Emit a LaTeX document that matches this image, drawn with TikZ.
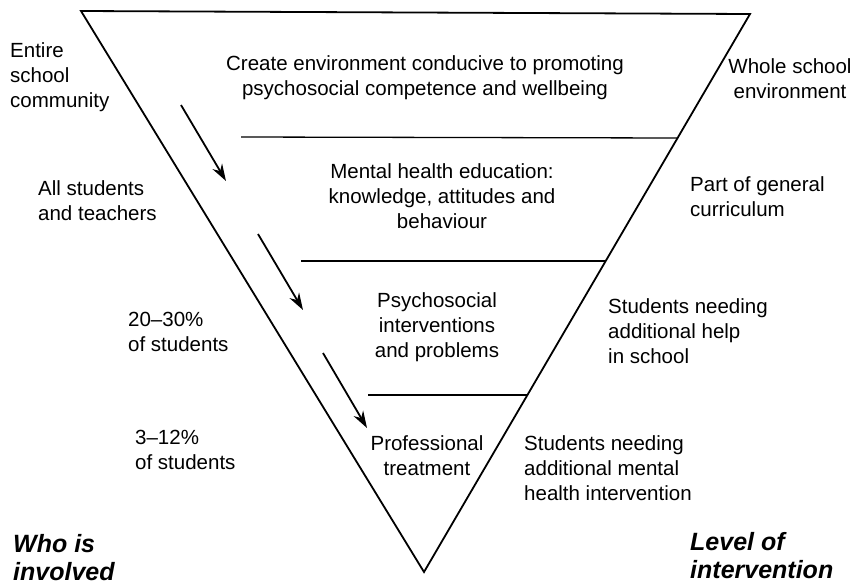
\documentclass[tikz,border=0pt]{standalone}
\usepackage{fontspec}
\setmainfont{Liberation Sans}
\usetikzlibrary{arrows.meta}

\begin{document}
\begin{tikzpicture}[x=1pt,y=-1pt,
  txt/.style={inner sep=0pt, font=\fontsize{20.5}{25}\selectfont},
  heading/.style={inner sep=0pt, align=left, anchor=north west, font=\fontsize{25}{28}\selectfont\bfseries\itshape},
  divider/.style={line width=1.3pt},
  flow/.style={line width=1.8pt,->,>={Stealth[length=17pt,width=11pt]}}]
\useasboundingbox (0,0) rectangle (854,584);

% Triangle
\coordinate (tl) at (81,11);
\coordinate (tr) at (750,14);
\coordinate (apex) at (424,572);
\draw[line width=1.8pt] (tl) -- (tr) -- (apex) -- cycle;

% Dividers between levels
\coordinate (d1a) at (241,137); \coordinate (d1b) at (678,138);
\coordinate (d2a) at (301,261); \coordinate (d2b) at (606,261);
\coordinate (d3a) at (368,395); \coordinate (d3b) at (527,395);
\draw[divider] (d1a) -- (d1b);
\draw[divider] (d2a) -- (d2b);
\draw[divider] (d3a) -- (d3b);

% Arrows down the levels
\coordinate (a1s) at (181,105); \coordinate (a1e) at (226,181);
\coordinate (a2s) at (258,234); \coordinate (a2e) at (303,310);
\coordinate (a3s) at (323,353); \coordinate (a3e) at (367,428);
\draw[flow] (a1s) -- (a1e);
\draw[flow] (a2s) -- (a2e);
\draw[flow] (a3s) -- (a3e);

% Levels inside the triangle
\node[txt, align=center, anchor=north] (create) at (425,55) {Create environment conducive to promoting\\psychosocial competence and wellbeing};
\node[txt, align=center, anchor=north] (education) at (442,163) {Mental health education:\\knowledge, attitudes and\\behaviour};
\node[txt, align=center, anchor=north] (psychosocial) at (437,292) {Psychosocial\\interventions\\and problems};
\node[txt, align=center, anchor=north] (treatment) at (427,435) {Professional\\treatment};

% Who is involved (left)
\node[txt, align=left, anchor=north west] (community) at (10,42) {Entire\\school\\community};
\node[txt, align=left, anchor=north west] (students) at (38,180) {All students\\and teachers};
\node[txt, align=left, anchor=north west] (twenty) at (128,312) {20–30\%\\of students};
\node[txt, align=left, anchor=north west] (three) at (135,430) {3–12\%\\of students};

% Level of intervention (right)
\node[txt, align=center, anchor=north] (whole) at (790,58) {Whole school\\environment};
\node[txt, align=left, anchor=north west] (curriculum) at (690,176) {Part of general\\curriculum};
\node[txt, align=left, anchor=north west] (helpneed) at (608,298) {Students needing\\additional help\\in school};
\node[txt, align=left, anchor=north west] (mentalneed) at (524,435) {Students needing\\additional mental\\health intervention};

% Headings
\node[heading] (who) at (13,534) {Who is\\involved};
\node[heading] (level) at (690,532) {Level of\\intervention};
\end{tikzpicture}
\end{document}
